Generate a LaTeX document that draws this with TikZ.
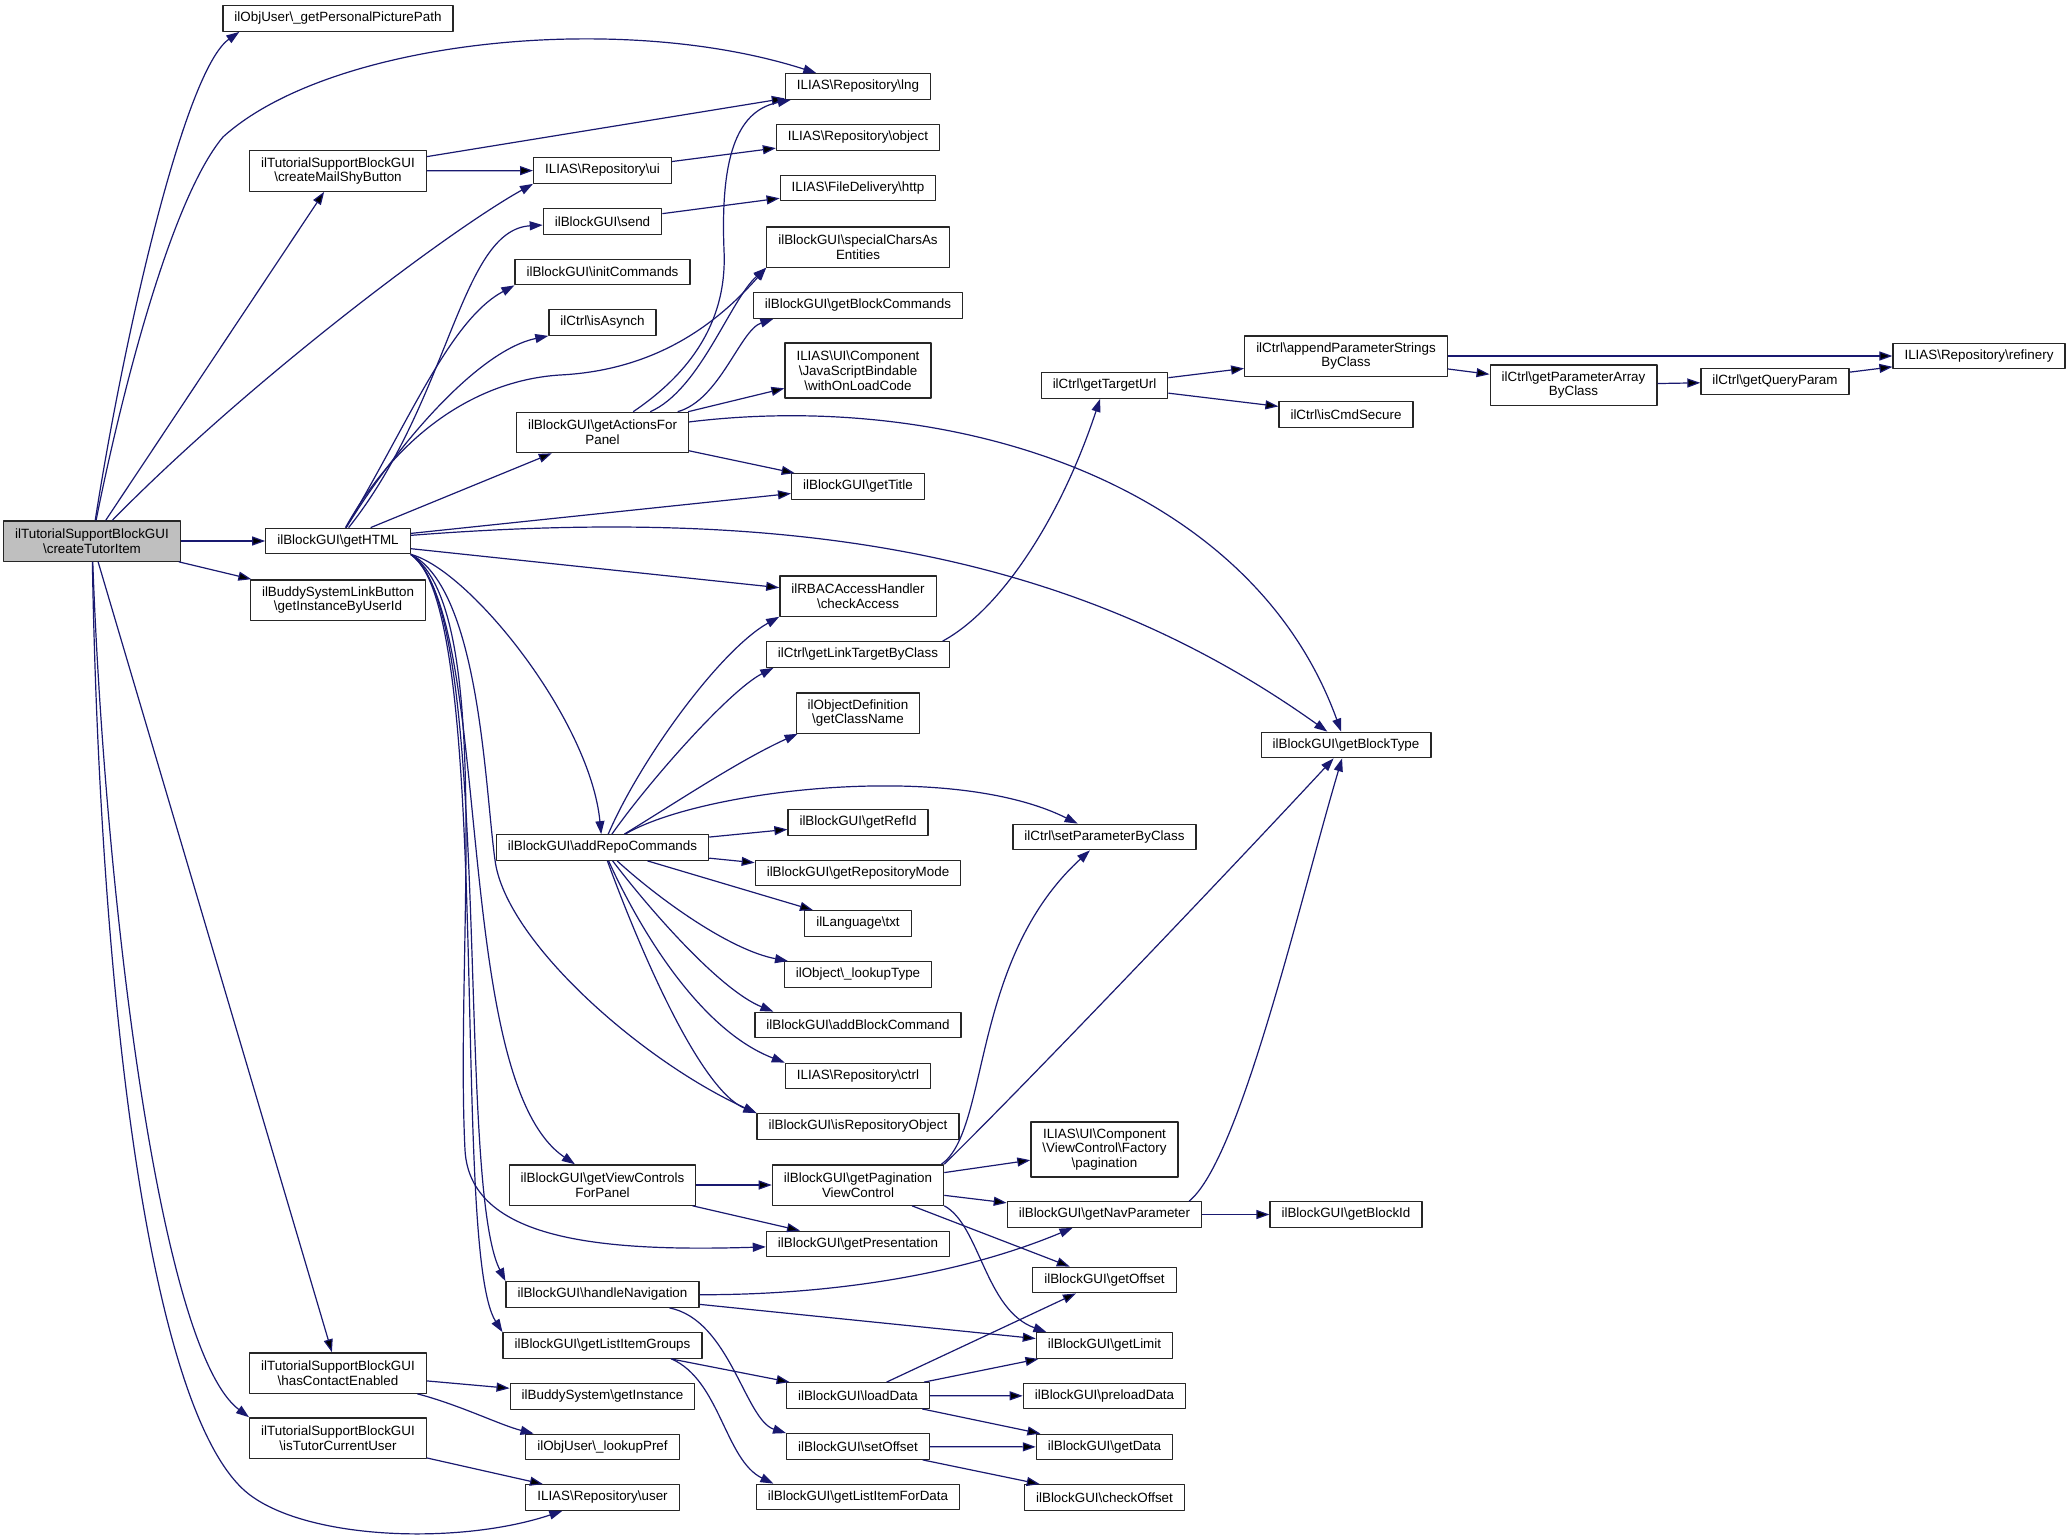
\documentclass[tikz,border=0pt]{standalone}
\usepackage{fontspec}
\setmainfont{Liberation Sans}
\usetikzlibrary{arrows.meta}
\definecolor{edgeblue}{HTML}{191970}
\definecolor{rootgray}{HTML}{BFBFBF}
\newcommand{\bsl}{\textbackslash}
\newlength{\boxlw}
\setlength{\boxlw}{1.3pt}
\newlength{\edgelw}
\setlength{\edgelw}{1.2pt}
\tikzstyle{every picture}+=[x=1pt,y=-1pt]
\tikzstyle{every picture}+=[>={Triangle[length=13pt,width=9pt]}]
\tikzstyle{every picture}+=[line join=round]
\tikzstyle{every picture}+=[node distance=50.5pt]
\tikzstyle{fn}=[draw=black!85, fill=white]
\tikzstyle{fn}+=[line width=\boxlw]
\tikzstyle{fn}+=[inner xsep=11.5pt, inner ysep=2pt]
\tikzstyle{fn}+=[minimum height=25.5pt]
\tikzstyle{fn}+=[align=center, font=\fontsize{13.4}{14.8}\selectfont]
\tikzstyle{fn2}=[fn, minimum height=40.3pt]
\tikzstyle{fn3}=[fn, minimum height=55.1pt]
\tikzstyle{root}=[fn2, fill=rootgray]
\tikzstyle{call}=[->, draw=edgeblue, line width=\edgelw]

\begin{document}
\begin{tikzpicture}
\path[use as bounding box, fill=white] (0,0) rectangle (2069,1536);

% caller and its first column
\node[root] (cti) at (92,541) {ilTutorialSupportBlockGUI\\\bsl createTutorItem};
\node[fn] (picpath) at (338,18.5) {ilObjUser\bsl\_getPersonalPicturePath};
\node[fn2] (mailbtn) at (338,171) {ilTutorialSupportBlockGUI\\\bsl createMailShyButton};
\node[fn] (html) at (338,541) {ilBlockGUI\bsl getHTML};
\node[fn2] (buddylink) at (338,600) {ilBuddySystemLinkButton\\\bsl getInstanceByUserId};
\node[fn2] (hascontact) at (338,1373) {ilTutorialSupportBlockGUI\\\bsl hasContactEnabled};
\node[fn2] (istutor) [below of=hascontact, node distance=65pt] {ilTutorialSupportBlockGUI\\\bsl isTutorCurrentUser};

\node[fn] (ui) at (602.5,170.5) {ILIAS\bsl Repository\bsl ui};
\node[fn] (send) [below of=ui, node distance=51pt] {ilBlockGUI\bsl send};
\node[fn] (initcmd) [below of=send] {ilBlockGUI\bsl initCommands};
\node[fn] (asynch) [below of=initcmd] {ilCtrl\bsl isAsynch};
\node[fn2] (actions) [below of=asynch, node distance=110pt] {ilBlockGUI\bsl getActionsFor\\Panel};
\node[fn] (repocmds) at (602.5,847.5) {ilBlockGUI\bsl addRepoCommands};
\node[fn2] (viewctrl) at (602.5,1185) {ilBlockGUI\bsl getViewControls\\ForPanel};
\node[fn] (handlenav) at (602.5,1294.5) {ilBlockGUI\bsl handleNavigation};
\node[fn] (itemgroups) [below of=handlenav, node distance=51pt] {ilBlockGUI\bsl getListItemGroups};
\node[fn] (buddyinst) [below of=itemgroups, node distance=51pt] {ilBuddySystem\bsl getInstance};
\node[fn] (lookuppref) [below of=buddyinst] {ilObjUser\bsl\_lookupPref};
\node[fn] (user) [below of=lookuppref] {ILIAS\bsl Repository\bsl user};

\node[fn] (lng) at (858,86.5) {ILIAS\bsl Repository\bsl lng};
\node[fn] (obj) [below of=lng, node distance=51pt] {ILIAS\bsl Repository\bsl object};
\node[fn] (http) [below of=obj] {ILIAS\bsl FileDelivery\bsl http};
\node[fn2] (special) [below of=http, node distance=59pt] {ilBlockGUI\bsl specialCharsAs\\Entities};
\node[fn] (blockcmds) [below of=special, node distance=58.5pt] {ilBlockGUI\bsl getBlockCommands};
\node[fn3] (jsb) [below of=blockcmds, node distance=65pt] {ILIAS\bsl UI\bsl Component\\\bsl JavaScriptBindable\\\bsl withOnLoadCode};
\node[fn] (title) [below of=jsb, node distance=116pt] {ilBlockGUI\bsl getTitle};
\node[fn2] (access) [below of=title, node distance=109.5pt] {ilRBACAccessHandler\\\bsl checkAccess};
\node[fn] (linktarget) [below of=access, node distance=58.5pt] {ilCtrl\bsl getLinkTargetByClass};
\node[fn2] (classname) [below of=linktarget, node distance=58.5pt] {ilObjectDefinition\\\bsl getClassName};
\node[fn] (refid) [below of=classname, node distance=109.5pt] {ilBlockGUI\bsl getRefId};
\node[fn] (repomode) [below of=refid] {ilBlockGUI\bsl getRepositoryMode};
\node[fn] (txt) [below of=repomode] {ilLanguage\bsl txt};
\node[fn] (lookup) [below of=txt, node distance=51pt] {ilObject\bsl\_lookupType};
\node[fn] (addcmd) [below of=lookup] {ilBlockGUI\bsl addBlockCommand};
\node[fn] (ctrl) [below of=addcmd, node distance=51pt] {ILIAS\bsl Repository\bsl ctrl};
\node[fn] (isrepo) [below of=ctrl] {ilBlockGUI\bsl isRepositoryObject};
\node[fn2] (pagvc) [below of=isrepo, node distance=58.5pt] {ilBlockGUI\bsl getPagination\\ViewControl};
\node[fn] (presentation) [below of=pagvc, node distance=59pt] {ilBlockGUI\bsl getPresentation};
\node[fn] (loaddata) at (858,1395.5) {ilBlockGUI\bsl loadData};
\node[fn] (setoffset) [below of=loaddata, node distance=51pt] {ilBlockGUI\bsl setOffset};
\node[fn] (itemdata) [below of=setoffset] {ilBlockGUI\bsl getListItemForData};

\node[fn] (targeturl) at (1104.5,385.5) {ilCtrl\bsl getTargetUrl};
\node[fn] (setparam) at (1104.5,837) {ilCtrl\bsl setParameterByClass};
\node[fn3] (pagfac) at (1104.5,1149.5) {ILIAS\bsl UI\bsl Component\\\bsl ViewControl\bsl Factory\\\bsl pagination};
\node[fn] (navparam) [below of=pagfac, node distance=65pt] {ilBlockGUI\bsl getNavParameter};
\node[fn] (offset) [below of=navparam, node distance=65.5pt] {ilBlockGUI\bsl getOffset};
\node[fn] (limit) [below of=offset, node distance=65.5pt] {ilBlockGUI\bsl getLimit};
\node[fn] (preload) [below of=limit] {ilBlockGUI\bsl preloadData};
\node[fn] (getdata) [below of=preload, node distance=51pt] {ilBlockGUI\bsl getData};
\node[fn] (checkoffset) [below of=getdata] {ilBlockGUI\bsl checkOffset};

\node[fn2] (appendparam) at (1346,356) {ilCtrl\bsl appendParameterStrings\\ByClass};
\node[fn] (cmdsecure) [below of=appendparam, node distance=58.5pt] {ilCtrl\bsl isCmdSecure};
\node[fn] (blocktype) at (1346,745) {ilBlockGUI\bsl getBlockType};
\node[fn] (blockid) [right of=navparam, node distance=241.5pt] {ilBlockGUI\bsl getBlockId};
\node[fn2] (paramarray) at (1573.5,385) {ilCtrl\bsl getParameterArray\\ByClass};
\node[fn] (queryparam) at (1775,381.5) {ilCtrl\bsl getQueryParam};
\node[fn] (refinery) at (1979,356) {ILIAS\bsl Repository\bsl refinery};

% straight calls
\path[call]
   (cti) edge (mailbtn)
   (cti) edge (html)
   (cti) edge (buddylink)
   (cti) edge (hascontact)
   (mailbtn) edge (lng)
   (mailbtn) edge (ui)
   (ui) edge (obj)
   (send) edge (http)
   (html) edge (actions)
   (html) edge (title)
   (html) edge (access)
   (actions) edge (jsb)
   (actions) edge (title)
   (repocmds) edge (refid)
   (repocmds) edge (repomode)
   (repocmds) edge (txt)
   (targeturl) edge (appendparam)
   (targeturl) edge (cmdsecure)
   (appendparam) edge (refinery)
   (appendparam) edge (paramarray)
   (paramarray) edge (queryparam)
   (queryparam) edge (refinery)
   (viewctrl) edge (pagvc)
   (viewctrl) edge (presentation)
   (pagvc) edge (pagfac)
   (pagvc) edge (navparam)
   (pagvc) edge (offset)
   (navparam) edge (blockid)
   (handlenav) edge (limit)
   (itemgroups) edge (loaddata)
   (loaddata) edge (offset)
   (loaddata) edge (limit)
   (loaddata) edge (preload)
   (loaddata) edge (getdata)
   (setoffset) edge (getdata)
   (setoffset) edge (checkoffset)
   (hascontact) edge (buddyinst)
   (istutor) edge (user)
;

% curved calls
\draw[call] (cti) .. controls (125,330) and (185,70) .. ([xshift=17pt]picpath.south west);
\draw[call] (cti) .. controls (120,400) and (170,200) .. (223,137) .. controls (330,40) and (620,10) .. (lng);
\draw[call] (cti) .. controls (250,380) and (450,230) .. (ui.south west);
\draw[call] (cti) .. controls (105,900) and (160,1350) .. (istutor.north west);
\draw[call] (cti) .. controls (100,1000) and (150,1420) .. (250,1495) .. controls (310,1540) and (460,1545) .. (user);

\draw[call] (html) .. controls (450,400) and (460,230) .. (send);
\draw[call] (html) .. controls (410,420) and (450,320) .. (initcmd.south west);
\draw[call] (html) .. controls (400,440) and (480,350) .. (asynch.south west);
\draw[call] (html) .. controls (400,430) and (480,380) .. (560,375) .. controls (660,370) and (720,320) .. (special.south west);
\draw[call] (html) .. controls (800,505) and (1080,555) .. (blocktype);
\draw[call] (html.south east) .. controls (470,570) and (590,720) .. (repocmds);
\draw[call] (html.south east) .. controls (480,590) and (485,790) .. (495,860) .. controls (505,940) and (640,1060) .. (isrepo.north west);
\draw[call] (html.south east) .. controls (495,620) and (450,1080) .. (viewctrl.143);
\draw[call] (html.south east) .. controls (495,610) and (455,950) .. (465,1150) .. controls (470,1240) and (600,1252) .. (presentation);
\draw[call] (html.south east) .. controls (495,610) and (455,1180) .. (handlenav.north west);
\draw[call] (html.south east) .. controls (495,610) and (450,1250) .. (itemgroups.north west);

\draw[call] (actions) .. controls (680,380) and (728,330) .. (724,250) .. controls (720,150) and (740,110) .. (lng);
\draw[call] (actions) .. controls (700,390) and (730,300) .. (special.south west);
\draw[call] (actions) .. controls (720,400) and (740,330) .. (blockcmds.-171);
\draw[call] (actions) .. controls (950,390) and (1250,480) .. (blocktype);

\draw[call] (repocmds) .. controls (640,760) and (720,650) .. (access.south west);
\draw[call] (repocmds) .. controls (650,780) and (730,690) .. (linktarget.-171);
\draw[call] (repocmds) .. controls (680,800) and (740,760) .. (classname.-161);
\draw[call] (repocmds) .. controls (700,790) and (950,760) .. (setparam);
\draw[call] (repocmds) .. controls (660,900) and (730,950) .. (lookup);
\draw[call] (repocmds) .. controls (650,910) and (720,990) .. (addcmd.171);
\draw[call] (repocmds) .. controls (640,930) and (700,1030) .. (ctrl.north west);
\draw[call] (repocmds) .. controls (640,950) and (700,1090) .. (isrepo.north west);

\draw[call] (linktarget.9) .. controls (1000,610) and (1060,520) .. (targeturl);
\draw[call] (pagvc.14) .. controls (990,1130) and (970,960) .. (setparam);
\draw[call] (pagvc.north east) .. controls (1030,1080) and (1230,870) .. (blocktype);
\draw[call] (pagvc.south east) .. controls (980,1225) and (985,1310) .. (limit.167);
\draw[call] (navparam.9) .. controls (1240,1160) and (1300,900) .. (blocktype);
\draw[call] (handlenav) .. controls (830,1295) and (960,1275) .. (navparam);
\draw[call] (handlenav) .. controls (730,1320) and (745,1420) .. (setoffset.north west);
\draw[call] (itemgroups.-11) .. controls (720,1380) and (725,1460) .. (itemdata.171);
\draw[call] (hascontact) .. controls (460,1405) and (500,1425) .. (lookuppref.169);
\end{tikzpicture}
\end{document}
